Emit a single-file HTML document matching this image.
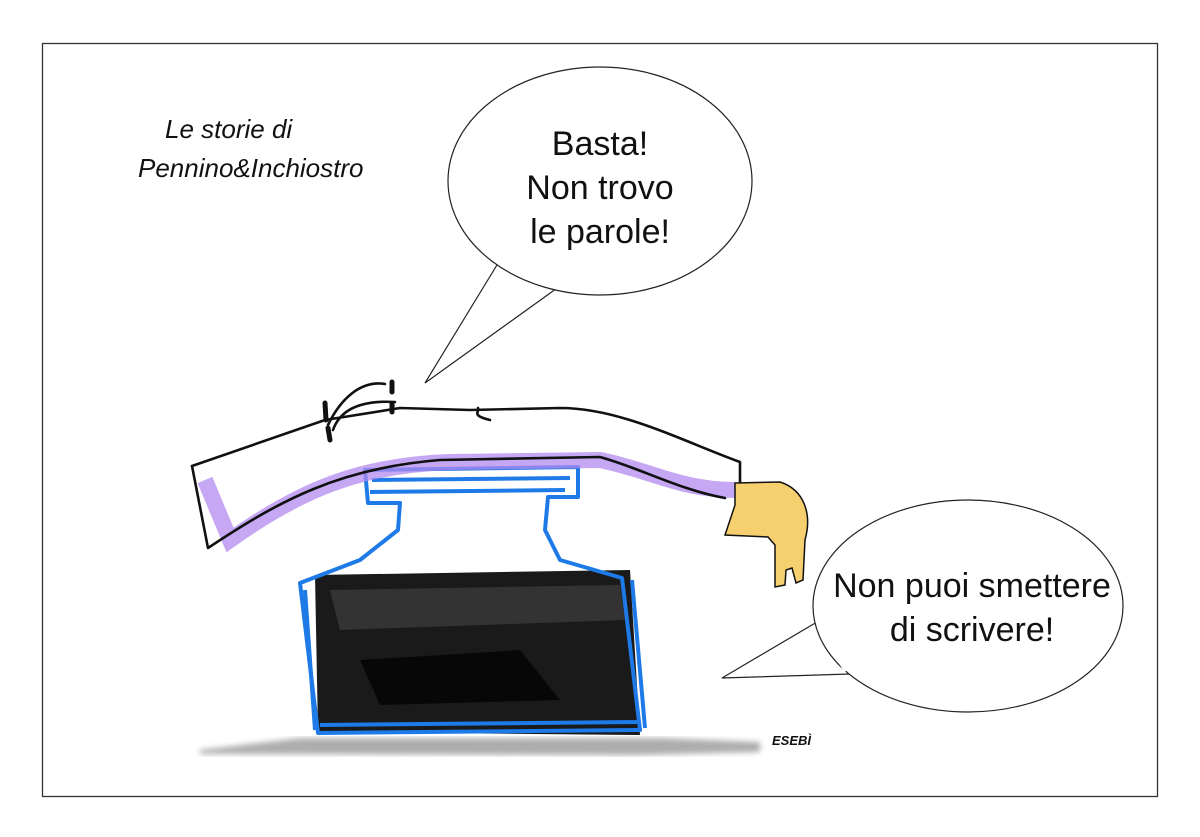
<!DOCTYPE html>
<html><head><style>
html,body{margin:0;padding:0;background:#fff;}
svg{display:block;}
text{font-family:"Liberation Sans",sans-serif;}
</style></head><body>
<svg width="1200" height="837" viewBox="0 0 1200 837" xmlns="http://www.w3.org/2000/svg">
<defs>
<filter id="blur"><feGaussianBlur stdDeviation="3"/></filter>
</defs>
<rect x="0" y="0" width="1200" height="837" fill="#fff"/>
<rect x="42.5" y="43.5" width="1115" height="753" fill="none" stroke="#333" stroke-width="1.3"/>

<text x="165" y="138" font-size="26" font-style="italic" fill="#111">Le storie di</text>
<text x="138" y="177" font-size="26" font-style="italic" fill="#111">Pennino&amp;Inchiostro</text>

<!-- bubble 1 -->
<path d="M500,260 L425,383 L560,286" fill="#fff" stroke="#222" stroke-width="1.2"/>
<ellipse cx="600" cy="181" rx="152" ry="114" fill="#fff" stroke="#222" stroke-width="1.2"/>
<path d="M502,256 L558,283" stroke="#fff" stroke-width="4"/>
<text x="600" y="155" font-size="34" text-anchor="middle" fill="#111">Basta!</text>
<text x="600" y="199" font-size="34" text-anchor="middle" fill="#111">Non trovo</text>
<text x="600" y="243" font-size="34" text-anchor="middle" fill="#111">le parole!</text>

<!-- bubble 2 -->
<path d="M817,622 L722,678 L850,674" fill="#fff" stroke="#222" stroke-width="1.2"/>
<ellipse cx="968" cy="606" rx="155" ry="106" fill="#fff" stroke="#222" stroke-width="1.2"/>
<path d="M819,627 L846,671" stroke="#fff" stroke-width="4"/>
<text x="972" y="597" font-size="34" text-anchor="middle" fill="#111">Non puoi smettere</text>
<text x="972" y="641" font-size="34" text-anchor="middle" fill="#111">di scrivere!</text>

<!-- shadow -->
<path d="M200,750 L300,738 L660,738 L760,742 L760,752 L640,755 L200,754 Z" fill="#999" filter="url(#blur)" opacity="0.8"/>

<!-- ink -->
<path d="M315,575 L630,570 L640,735 L318,732 Z" fill="#1a1a1a"/>
<path d="M330,590 L620,585 L625,620 L340,630 Z" fill="#444" opacity="0.6"/>
<path d="M360,660 L520,650 L560,700 L380,705 Z" fill="#000" opacity="0.7"/>

<!-- bottle -->
<g fill="none" stroke="#1e7ae6" stroke-width="4" stroke-linejoin="round">
<path d="M365,470 L578,467 L578,497 L548,497 L545,530 L560,560 L622,578 L640,730 L318,733 L300,583 L360,560 L398,530 L400,503 L368,503 Z"/>
<path d="M372,480 L570,478 M370,492 L565,490 M305,590 L315,730 M632,580 L645,728 M320,725 L640,722"/>
</g>

<!-- pen purple band -->
<path d="M205,480 L230,540 C300,490 360,465 450,462 L600,460 C650,470 680,490 735,490" fill="none" stroke="#b38af0" stroke-width="16" opacity="0.75"/>

<!-- pen outline -->
<g fill="none" stroke="#111" stroke-width="2.6" stroke-linecap="round" stroke-linejoin="round">
<path d="M192,466 L325,420 L400,408 L470,410 L560,408 C620,408 680,440 740,462 L740,482"/>
<path d="M192,466 L208,548 C280,500 340,468 440,460 L600,457 C640,468 680,490 725,498"/>
<path d="M478,408 C480,412 470,415 490,420"/>
<path d="M328,425 C340,400 360,380 385,384 M333,430 C340,410 360,400 395,402"/>
</g>
<g stroke="#111" stroke-width="5" stroke-linecap="round">
<path d="M325,403 L326,420 M328,428 L330,440 M392,382 L392,392 M392,404 L392,412"/>
</g>

<!-- nib -->
<path d="M735,483 L780,482 C805,490 812,515 805,540 L803,580 L796,583 L792,568 L786,570 L785,585 L775,587 L775,545 L768,537 L725,535 L735,505 Z" fill="#f6cf6e" stroke="#111" stroke-width="1.5"/>

<text x="772" y="745" font-size="13" font-weight="bold" font-style="italic" fill="#111">ESEBÌ</text>
</svg>
</body></html>
